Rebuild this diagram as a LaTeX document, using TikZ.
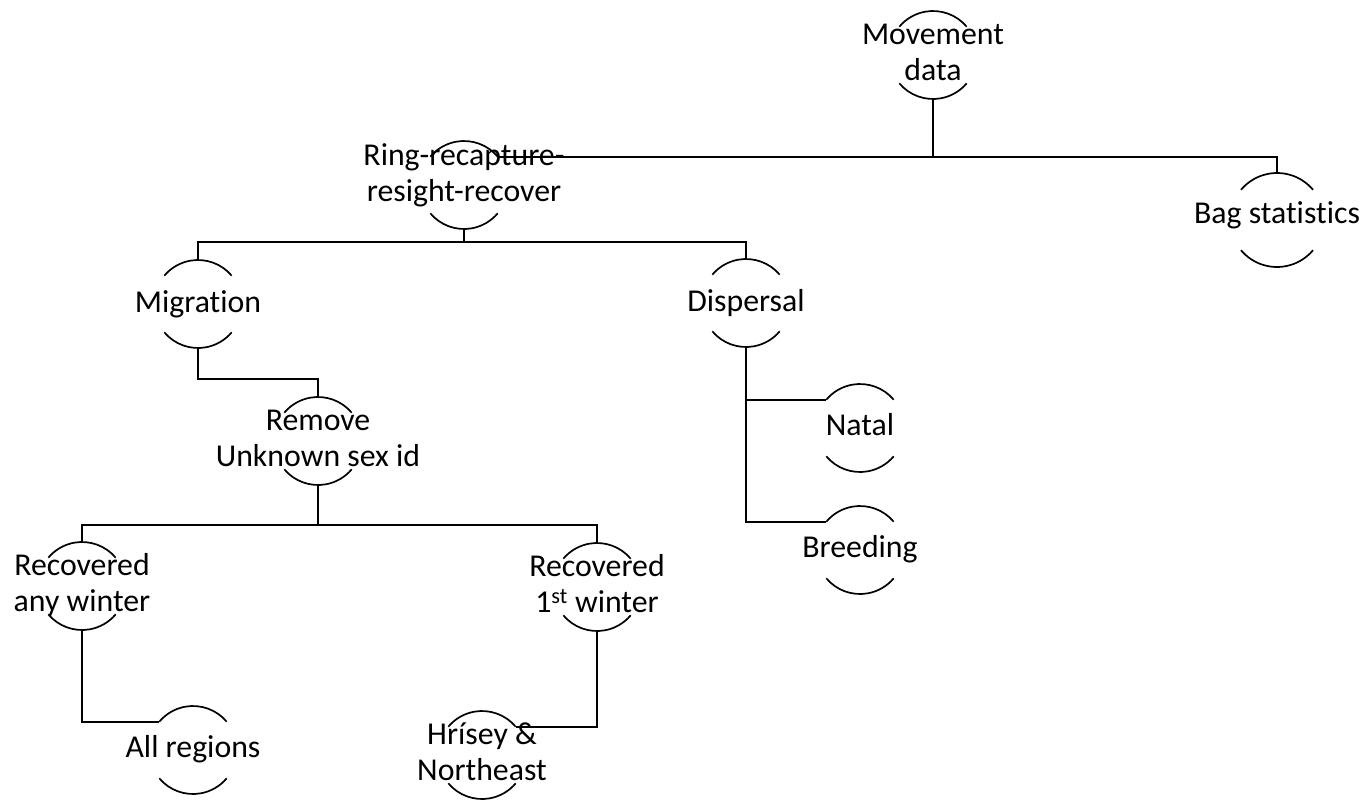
\documentclass[tikz,border=0pt]{standalone}
\usepackage{fontspec}
\setmainfont{Carlito}[RawFeature={-liga;-clig;-calt;-dlig}]
\newcommand\nolig{\kern0pt{}}
\tikzset{
  hub/.style={circle, minimum size=88pt, inner sep=0pt, draw=none},
  lbl/.style={align=center, inner sep=0pt, font=\fontsize{31.8}{36}\selectfont},
  arcline/.style={line width=1.7pt},
  conn/.style={line width=1.9pt},
}
\begin{document}
\begin{tikzpicture}[x=1pt,y=1pt]
\useasboundingbox (0,0) rectangle (1368,-801);
% invisible circle nodes (anchors for connectors)
\node[hub] (mv)     at (933,-55)  {};
\node[hub] (ring)   at (464,-185) {};
\node[hub, minimum size=94pt] (bag) at (1277,-220) {};
\node[hub] (mig)    at (198,-304) {};
\node[hub] (disp)   at (746,-303) {};
\node[hub] (rem)    at (318,-441) {};
\node[hub] (natal)  at (860,-428) {};
\node[hub] (breed)  at (860,-550) {};
\node[hub] (recany) at (82,-586)  {};
\node[hub] (rec1)   at (597,-587) {};
\node[hub] (allreg) at (193,-750) {};
\node[hub] (hris)   at (482,-755) {};
% top and bottom arcs
\foreach \n/\r in {mv/44,ring/44,bag/47,mig/44,disp/44,rem/44,natal/44,breed/44,recany/44,rec1/44,allreg/44,hris/44}{
  \draw[arcline] ([shift={(40:\r pt)}]\n.center) arc[start angle=40,end angle=140,radius=\r pt];
  \draw[arcline] ([shift={(220:\r pt)}]\n.center) arc[start angle=220,end angle=320,radius=\r pt];
}
% texts
\node[lbl] (mvt)     at (933,-55)  {\strut Movement\\\strut data};
\node[lbl] (ringt)   at (464,-176) {\strut Ring-recapture-\\\strut resight-recover};
\node[lbl] (bagt)    at (1277,-216) {\strut Bag stat\nolig istics};
\node[lbl] (migt)    at (198,-305) {\strut Migrat\nolig ion};
\node[lbl] (dispt)   at (746,-304) {\strut Dispersal};
\node[lbl] (remt)    at (318,-441) {\strut Remove\\\strut Unknown sex id};
\node[lbl] (natalt)  at (860,-428) {\strut Natal};
\node[lbl] (breedt)  at (860,-550) {\strut Breeding};
\node[lbl] (recanyt) at (82,-586)  {\strut Recovered\\\strut any winter};
\node[lbl] (rec1t)   at (597,-587) {\strut Recovered\\\strut 1\textsuperscript{st} winter};
\node[lbl] (allregt) at (193,-750) {\strut All regions};
\node[lbl] (hrist)   at (482,-755) {\strut Hrísey \&\\\strut Northeast};
% connectors
\draw[conn] (mv.south) |- (ring.40);
\draw[conn] (ring.40 -| mv.south) -| (bag.north);
\draw[conn] (ring.south) -- ++(0,-13) -| (mig.north);
\draw[conn] (ring.south) -- ++(0,-13) -| (disp.north);
\draw[conn] (mig.south) -- ++(0,-31) -| (rem.north);
\draw[conn] (rem.south) -- ++(0,-40) -| (recany.north);
\draw[conn] (rem.south) -- ++(0,-40) -| (rec1.north);
\draw[conn] (recany.south) |- (allreg.140);
\draw[conn] (rec1.south) |- (hris.40);
\draw[conn] (disp.south) |- (natal.140);
\draw[conn] (disp.south) |- (breed.140);
\end{tikzpicture}
\end{document}
